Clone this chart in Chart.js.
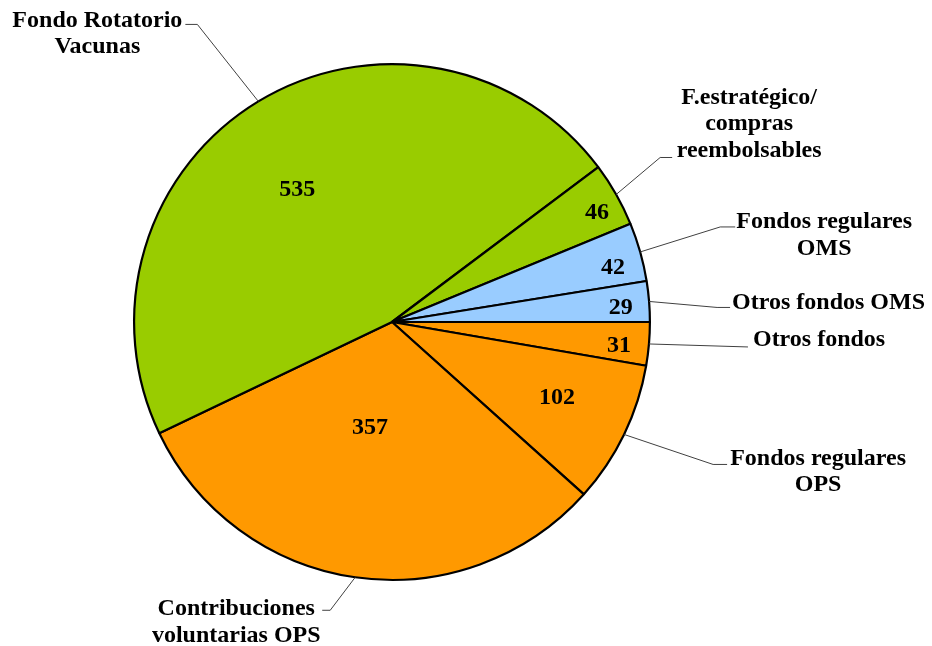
<!DOCTYPE html>
<html>
<head>
<meta charset="utf-8">
<script src="https://cdn.jsdelivr.net/npm/chart.js@4/dist/chart.umd.min.js"></script>
<style>
  html, body { margin: 0; padding: 0; background: #ffffff; }
  #wrap { width: 932px; height: 646px; position: relative; }
</style>
</head>
<body>
<div id="wrap"><canvas id="c" width="932" height="646"></canvas></div>
<script>
// ---- data (clockwise from 3 o'clock) ----
const categories = [
  'Otros fondos',
  'Fondos regulares\nOPS',
  'Contribuciones\nvoluntarias OPS',
  'Fondo Rotatorio\nVacunas',
  'F.estratégico/\ncompras\nreembolsables',
  'Fondos regulares\nOMS',
  'Otros fondos OMS'
];
const values = [31, 102, 357, 535, 46, 42, 29];

// ---- style ----
const sliceColors = ['#FF9900', '#FF9900', '#FF9900', '#99CC00', '#99CC00', '#99CCFF', '#99CCFF'];
// value label placement: [radius factor, angle offset in degrees]
const valuePlacement = [[0.885, 1.1], [0.705, -1.1], [0.42, 3.5], [0.63, -4.5], [0.9, 1.6], [0.882, 2.1], [0.889, 1.1]];
// callouts: elbow offset from arc edge, horizontal tail, text align, text offset from tail end
const callouts = [
  { elbow: [99, 3],   tail: 0,   align: 'left',   text: [5, -7] },
  { elbow: [89, 30],  tail: 14,  align: 'center', text: [91, -6] },
  { elbow: [-25, 33], tail: -8,  align: 'center', text: [-86, -1] },
  { elbow: [-61, -77],tail: -12, align: 'center', text: [-88, -4] },
  { elbow: [44, -37], tail: 12,  align: 'center', text: [77, -60] },
  { elbow: [80, -25], tail: 15,  align: 'center', text: [89, -5] },
  { elbow: [68, 6],   tail: 13,  align: 'left',   text: [2, -5] }
];
const FONT = 'bold 24px "Liberation Serif", "Times New Roman", serif';
const LINE_H = 26.5;

const labelPlugin = {
  id: 'pieLabels',
  afterDatasetsDraw(chart) {
    const ctx = chart.ctx;
    const meta = chart.getDatasetMeta(0);
    ctx.save();
    ctx.font = FONT;
    ctx.fillStyle = '#000';
    ctx.textBaseline = 'middle';
    meta.data.forEach((arc, i) => {
      const p = arc.getProps(['x', 'y', 'startAngle', 'endAngle', 'outerRadius']);
      const mid = (p.startAngle + p.endAngle) / 2;
      // value label
      const vp = valuePlacement[i];
      const a = mid + vp[1] * Math.PI / 180;
      const rr = p.outerRadius * vp[0];
      ctx.textAlign = 'center';
      ctx.fillText(String(values[i]), p.x + Math.cos(a) * rr, p.y + Math.sin(a) * rr);
      // leader line
      const c = callouts[i];
      const ex = p.x + Math.cos(mid) * p.outerRadius;
      const ey = p.y + Math.sin(mid) * p.outerRadius;
      const bx = ex + c.elbow[0], by = ey + c.elbow[1];
      const tx = bx + c.tail, ty = by;
      ctx.beginPath();
      ctx.strokeStyle = '#404040';
      ctx.lineWidth = 1;
      ctx.moveTo(ex, ey);
      ctx.lineTo(bx, by);
      ctx.lineTo(tx, ty);
      ctx.stroke();
      // category text
      const lines = categories[i].split('\n');
      ctx.textAlign = c.align;
      lines.forEach((ln, k) => {
        ctx.fillText(ln, tx + c.text[0], ty + c.text[1] + k * LINE_H);
      });
    });
    ctx.restore();
  }
};

new Chart(document.getElementById('c'), {
  type: 'pie',
  data: {
    labels: categories,
    datasets: [{
      data: values,
      backgroundColor: sliceColors,
      borderColor: '#000000',
      borderWidth: 2.2
    }]
  },
  options: {
    responsive: false,
    animation: false,
    rotation: 90,
    layout: { padding: { left: 133, right: 281, top: 63, bottom: 65 } },
    plugins: {
      legend: { display: false },
      tooltip: { enabled: false },
      title: { display: false }
    }
  },
  plugins: [labelPlugin]
});
</script>
</body>
</html>
